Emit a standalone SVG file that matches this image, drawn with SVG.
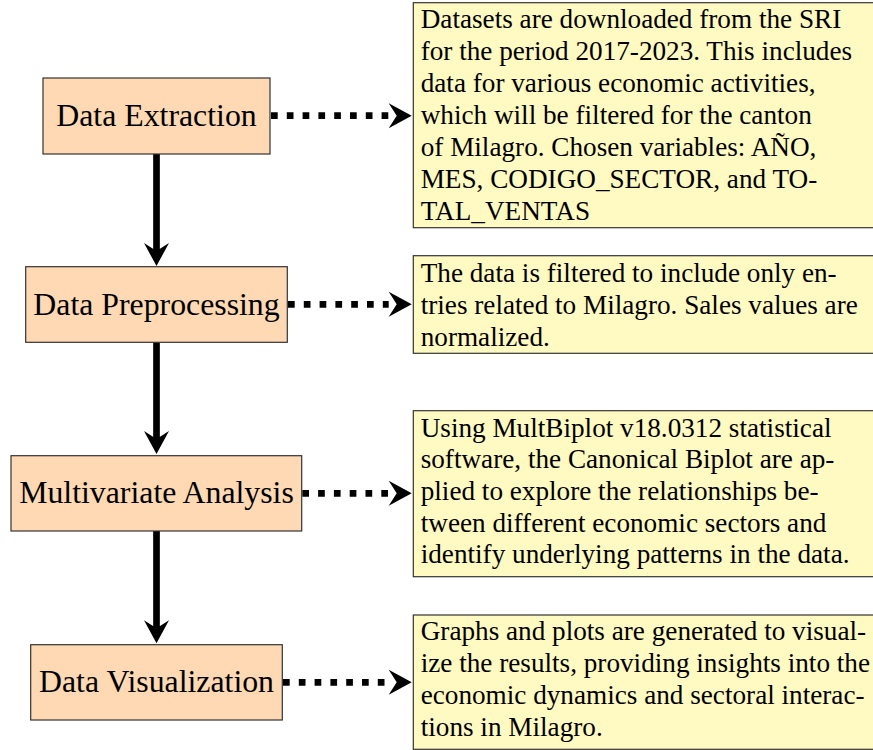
<svg xmlns="http://www.w3.org/2000/svg" width="873" height="750" viewBox="0 0 873 750">
<style>
  .node rect { fill: #FFD9B3; stroke: #333333; stroke-width: 1.2; }
  .node text { font-family: "Liberation Serif", "Times New Roman", serif; font-size: 31.8px; fill: #000; text-anchor: middle; }
  .note rect { fill: #FFFAC2; stroke: #333333; stroke-width: 1.2; }
  .note text { font-family: "Liberation Serif", "Times New Roman", serif; font-size: 27.2px; fill: #000; }
  .solid { fill: none; stroke: #000; stroke-width: 6.7; marker-end: url(#ah); }
  .dotted { fill: none; stroke: #000; stroke-width: 6.7; stroke-dasharray: 6.7 9.1; marker-end: url(#ahd); }
</style>
<defs>
  <marker id="ah" viewBox="0 0 23 25" refX="8" refY="12.5" markerWidth="23" markerHeight="25" markerUnits="userSpaceOnUse" orient="auto" overflow="visible">
    <path d="M0,0 L23,12.5 L0,25 L8,12.5 Z" fill="#000"/>
  </marker>
  <marker id="ahd" viewBox="0 0 23 25" refX="0" refY="12.5" markerWidth="23" markerHeight="25" markerUnits="userSpaceOnUse" orient="auto" overflow="visible">
    <path d="M0,0 L23,12.5 L0,25 L8,12.5 Z" fill="#000"/>
  </marker>
</defs>

<g id="connectors">
  <path class="solid" d="M156.5,154 L156.5,251"/>
  <path class="solid" d="M156.5,342.3 L156.5,439"/>
  <path class="solid" d="M156.5,531 L156.5,628.3"/>
  <path class="dotted" d="M271,115.7 L388.7,115.7"/>
  <path class="dotted" d="M288,304.3 L388.7,304.3"/>
  <path class="dotted" d="M302.3,493.3 L388.7,493.3"/>
  <path class="dotted" d="M283,682.3 L388.7,682.3"/>
</g>

<g id="node-extraction" class="node">
  <rect x="43" y="78" width="227" height="76"/>
  <text x="156.5" y="126">Data Extraction</text>
</g>
<g id="node-preprocessing" class="node">
  <rect x="25.7" y="266.7" width="261.6" height="75.6"/>
  <text x="156.5" y="314.5">Data Preprocessing</text>
</g>
<g id="node-multivariate" class="node">
  <rect x="11" y="455.7" width="290.7" height="75.3"/>
  <text x="156.5" y="503.3">Multivariate Analysis</text>
</g>
<g id="node-visualization" class="node">
  <rect x="30.7" y="644.7" width="251.6" height="75.3"/>
  <text x="156.5" y="692.3">Data Visualization</text>
</g>

<g id="note-extraction" class="note">
  <rect x="413.3" y="2.7" width="470" height="225"/>
  <text x="420.7" y="28.3">Datasets are downloaded from the SRI</text>
  <text x="420.7" y="60.3">for the period 2017-2023. This includes</text>
  <text x="420.7" y="92.3">data for various economic activities,</text>
  <text x="420.7" y="124.3">which will be filtered for the canton</text>
  <text x="420.7" y="156.3">of Milagro. Chosen variables: AÑO,</text>
  <text x="420.7" y="188.3">MES, CODIGO_SECTOR, and TO-</text>
  <text x="420.7" y="220.3">TAL_VENTAS</text>
</g>
<g id="note-preprocessing" class="note">
  <rect x="413.3" y="255.7" width="470" height="97.6"/>
  <text x="420.7" y="282.3">The data is filtered to include only en-</text>
  <text x="420.7" y="314">tries related to Milagro. Sales values are</text>
  <text x="420.7" y="345.5">normalized.</text>
</g>
<g id="note-multivariate" class="note">
  <rect x="413.3" y="410.7" width="470" height="166"/>
  <text x="420.7" y="436.5">Using MultBiplot v18.0312 statistical</text>
  <text x="420.7" y="468.2">software, the Canonical Biplot are ap-</text>
  <text x="420.7" y="500">plied to explore the relationships be-</text>
  <text x="420.7" y="531.7">tween different economic sectors and</text>
  <text x="420.7" y="563.4">identify underlying patterns in the data.</text>
</g>
<g id="note-visualization" class="note">
  <rect x="413.3" y="615" width="470" height="134.3"/>
  <text x="420.7" y="639.5">Graphs and plots are generated to visual-</text>
  <text x="420.7" y="671.8">ize the results, providing insights into the</text>
  <text x="420.7" y="704">economic dynamics and sectoral interac-</text>
  <text x="420.7" y="736">tions in Milagro.</text>
</g>
</svg>
